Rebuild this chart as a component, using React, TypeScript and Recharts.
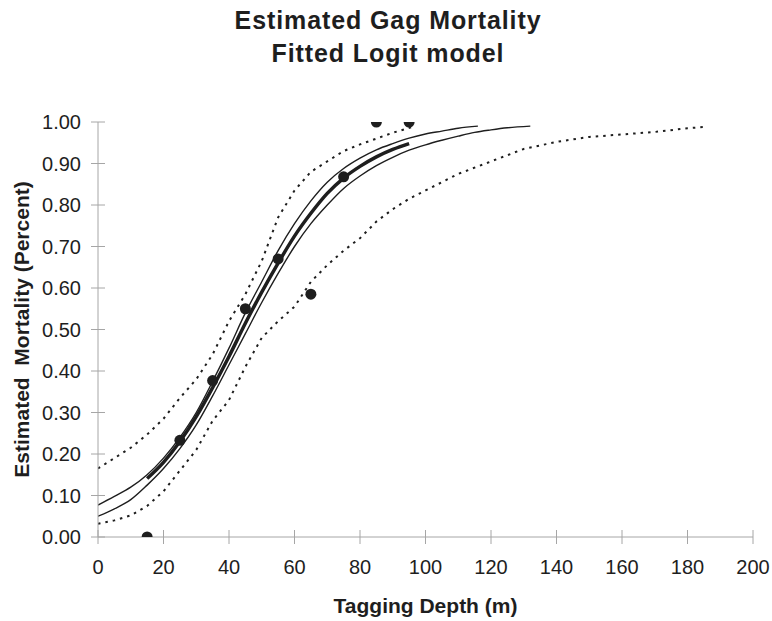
import type { ReactElement } from 'react';
import { ComposedChart, Line, Scatter, XAxis, YAxis, Label } from 'recharts';

/* ------------------------------------------------------------------ */
/*  Data                                  */
/* ------------------------------------------------------------------ */

const TITLE_LINES = ['Estimated Gag Mortality', 'Fitted Logit model'];
const X_LABEL = 'Tagging Depth (m)';
const Y_LABEL = 'Estimated  Mortality (Percent)';

const X_TICKS = [0, 20, 40, 60, 80, 100, 120, 140, 160, 180, 200];
const Y_TICKS = [0, 0.1, 0.2, 0.3, 0.4, 0.5, 0.6, 0.7, 0.8, 0.9, 1.0];

// observed mortality by depth
const observed = [
  { x: 15, y: 0.0 },
  { x: 25, y: 0.233 },
  { x: 35, y: 0.377 },
  { x: 45, y: 0.55 },
  { x: 55, y: 0.67 },
  { x: 65, y: 0.585 },
  { x: 75, y: 0.868 },
  { x: 85, y: 1.0 },
  { x: 95, y: 1.0 },
];

// fitted logit curve (thick)
const fitted = [
  { x: 15, y: 0.141 },
  { x: 20, y: 0.18 },
  { x: 25, y: 0.23 },
  { x: 30, y: 0.29 },
  { x: 35, y: 0.36 },
  { x: 40, y: 0.435 },
  { x: 45, y: 0.515 },
  { x: 50, y: 0.59 },
  { x: 55, y: 0.66 },
  { x: 60, y: 0.725 },
  { x: 65, y: 0.78 },
  { x: 70, y: 0.828 },
  { x: 75, y: 0.865 },
  { x: 80, y: 0.893 },
  { x: 85, y: 0.916 },
  { x: 90, y: 0.934 },
  { x: 95, y: 0.948 },
];

// inner band (thin solid)
const upperSolid = [
  { x: 0, y: 0.077 },
  { x: 5, y: 0.098 },
  { x: 10, y: 0.12 },
  { x: 15, y: 0.15 },
  { x: 20, y: 0.19 },
  { x: 25, y: 0.24 },
  { x: 30, y: 0.3 },
  { x: 35, y: 0.375 },
  { x: 40, y: 0.455 },
  { x: 45, y: 0.54 },
  { x: 50, y: 0.615 },
  { x: 55, y: 0.69 },
  { x: 60, y: 0.755 },
  { x: 65, y: 0.81 },
  { x: 70, y: 0.855 },
  { x: 75, y: 0.888 },
  { x: 80, y: 0.913 },
  { x: 85, y: 0.933 },
  { x: 90, y: 0.948 },
  { x: 95, y: 0.961 },
  { x: 100, y: 0.971 },
  { x: 105, y: 0.978 },
  { x: 110, y: 0.985 },
  { x: 116, y: 0.99 },
];

const lowerSolid = [
  { x: 0, y: 0.05 },
  { x: 5, y: 0.068 },
  { x: 10, y: 0.09 },
  { x: 15, y: 0.125 },
  { x: 20, y: 0.165 },
  { x: 25, y: 0.213 },
  { x: 30, y: 0.27 },
  { x: 35, y: 0.34 },
  { x: 40, y: 0.415 },
  { x: 45, y: 0.49 },
  { x: 50, y: 0.565 },
  { x: 55, y: 0.635 },
  { x: 60, y: 0.7 },
  { x: 65, y: 0.755 },
  { x: 70, y: 0.8 },
  { x: 75, y: 0.84 },
  { x: 80, y: 0.87 },
  { x: 85, y: 0.895 },
  { x: 90, y: 0.915 },
  { x: 95, y: 0.932 },
  { x: 100, y: 0.945 },
  { x: 105, y: 0.956 },
  { x: 110, y: 0.966 },
  { x: 115, y: 0.975 },
  { x: 120, y: 0.981 },
  { x: 125, y: 0.986 },
  { x: 132, y: 0.99 },
];

// outer band (dotted)
const upperDotted = [
  { x: 0, y: 0.165 },
  { x: 5, y: 0.19 },
  { x: 10, y: 0.215 },
  { x: 15, y: 0.247 },
  { x: 20, y: 0.285 },
  { x: 25, y: 0.335 },
  { x: 30, y: 0.38 },
  { x: 35, y: 0.44 },
  { x: 40, y: 0.52 },
  { x: 45, y: 0.585 },
  { x: 50, y: 0.665 },
  { x: 55, y: 0.77 },
  { x: 60, y: 0.835 },
  { x: 65, y: 0.88 },
  { x: 70, y: 0.905 },
  { x: 75, y: 0.93 },
  { x: 80, y: 0.946 },
  { x: 85, y: 0.96 },
  { x: 90, y: 0.974 },
  { x: 96, y: 0.988 },
];

const lowerDotted = [
  { x: 0, y: 0.032 },
  { x: 5, y: 0.04 },
  { x: 10, y: 0.052 },
  { x: 15, y: 0.075 },
  { x: 20, y: 0.11 },
  { x: 25, y: 0.16 },
  { x: 30, y: 0.21 },
  { x: 35, y: 0.28 },
  { x: 40, y: 0.33 },
  { x: 45, y: 0.41 },
  { x: 50, y: 0.48 },
  { x: 55, y: 0.52 },
  { x: 60, y: 0.555 },
  { x: 65, y: 0.615 },
  { x: 70, y: 0.655 },
  { x: 75, y: 0.69 },
  { x: 80, y: 0.72 },
  { x: 85, y: 0.76 },
  { x: 90, y: 0.79 },
  { x: 95, y: 0.815 },
  { x: 100, y: 0.835 },
  { x: 110, y: 0.875 },
  { x: 120, y: 0.905 },
  { x: 130, y: 0.935 },
  { x: 140, y: 0.952 },
  { x: 150, y: 0.964 },
  { x: 160, y: 0.97 },
  { x: 170, y: 0.976 },
  { x: 180, y: 0.985 },
  { x: 185, y: 0.988 },
];

/* ------------------------------------------------------------------ */
/*  Styling                                                            */
/* ------------------------------------------------------------------ */

const FONT = '"Liberation Sans", Arial, sans-serif';
const INK = '#1e1e1e';
const AXIS = '#a6a6a6';
const TICK_SIZE = 7;
const X_TICK_MARGIN = 16;
const Y_TICK_MARGIN = 10;

function Dot(props: { cx?: number; cy?: number }): ReactElement {
  return <circle cx={props.cx} cy={props.cy} r={5.5} fill={INK} />;
}

// x tick: label plus the half of the tick mark that pokes into the plot
function XTick(props: any): ReactElement {
  const { x, y, payload } = props;
  const axisY = y - TICK_SIZE - X_TICK_MARGIN;
  return (
    <g>
      <line x1={x} x2={x} y1={axisY} y2={axisY - TICK_SIZE} stroke={AXIS} />
      <text x={x} y={y} dy="0.71em" textAnchor="middle" fontSize={20} fontFamily={FONT} fill={INK}>
        {payload.value}
      </text>
    </g>
  );
}

function YTick(props: any): ReactElement {
  const { x, y, payload } = props;
  const axisX = x + TICK_SIZE + Y_TICK_MARGIN;
  return (
    <g>
      <line x1={axisX} x2={axisX + TICK_SIZE} y1={y} y2={y} stroke={AXIS} />
      <text x={x} y={y} dy="0.355em" textAnchor="end" fontSize={20} fontFamily={FONT} fill={INK}>
        {Number(payload.value).toFixed(2)}
      </text>
    </g>
  );
}

export default function App(): ReactElement {
  return (
    <div style={{ position: 'absolute', left: 0, top: 0, width: 772, height: 621, background: '#fff' }}>
      <ComposedChart
        width={772}
        height={621}
        margin={{ top: 122, right: 19, bottom: 24, left: 8 }}
      >
        <XAxis
          type="number"
          dataKey="x"
          domain={[0, 200]}
          ticks={X_TICKS}
          height={60}
          stroke={AXIS}
          tickSize={TICK_SIZE}
          tickMargin={X_TICK_MARGIN}
          tick={<XTick />}
          allowDataOverflow
        >
          <Label
            content={({ viewBox }: any) => (
              <text
                x={viewBox.x + viewBox.width / 2}
                y={613}
                textAnchor="middle"
                fontFamily={FONT}
                fontWeight="bold"
                fontSize={21}
                fill={INK}
              >
                {X_LABEL}
              </text>
            )}
          />
        </XAxis>
        <YAxis
          type="number"
          dataKey="y"
          domain={[0, 1]}
          ticks={Y_TICKS}
          width={90}
          stroke={AXIS}
          tickSize={TICK_SIZE}
          tickMargin={Y_TICK_MARGIN}
          tick={<YTick />}
          allowDataOverflow
        >
          <Label
            content={({ viewBox }: any) => {
              const cy = viewBox.y + viewBox.height / 2;
              return (
                <text
                  x={28.5}
                  y={cy}
                  transform={`rotate(-90 28.5 ${cy})`}
                  textAnchor="middle"
                  fontFamily={FONT}
                  fontWeight="bold"
                  fontSize={21}
                  fill={INK}
                  style={{ whiteSpace: 'pre' }}
                >
                  {Y_LABEL}
                </text>
              );
            }}
          />
        </YAxis>

        <Line
          data={lowerDotted}
          dataKey="y"
          stroke={INK}
          strokeWidth={2}
          strokeDasharray="2.5 5"
          dot={false}
          type="linear"
          isAnimationActive={false}
        />
        <Line
          data={upperDotted}
          dataKey="y"
          stroke={INK}
          strokeWidth={2}
          strokeDasharray="2.5 5"
          dot={false}
          type="linear"
          isAnimationActive={false}
        />
        <Line
          data={lowerSolid}
          dataKey="y"
          stroke={INK}
          strokeWidth={1.4}
          dot={false}
          type="monotone"
          isAnimationActive={false}
        />
        <Line
          data={upperSolid}
          dataKey="y"
          stroke={INK}
          strokeWidth={1.4}
          dot={false}
          type="monotone"
          isAnimationActive={false}
        />
        <Line
          data={fitted}
          dataKey="y"
          stroke={INK}
          strokeWidth={3.5}
          dot={false}
          type="monotone"
          isAnimationActive={false}
        />
        <Scatter
          data={observed}
          dataKey="y"
          fill={INK}
          shape={<Dot />}
          isAnimationActive={false}
        />
      </ComposedChart>

      {/* two-line chart title */}
      <svg
        width={772}
        height={80}
        style={{ position: 'absolute', left: 0, top: 0, pointerEvents: 'none' }}
      >
        {TITLE_LINES.map((line, i) => (
          <text
            key={line}
            x={388}
            y={29 + i * 33}
            textAnchor="middle"
            fontFamily={FONT}
            fontWeight="bold"
            fontSize={25}
            letterSpacing={0.9}
            fill={INK}
          >
            {line}
          </text>
        ))}
      </svg>
    </div>
  );
}
